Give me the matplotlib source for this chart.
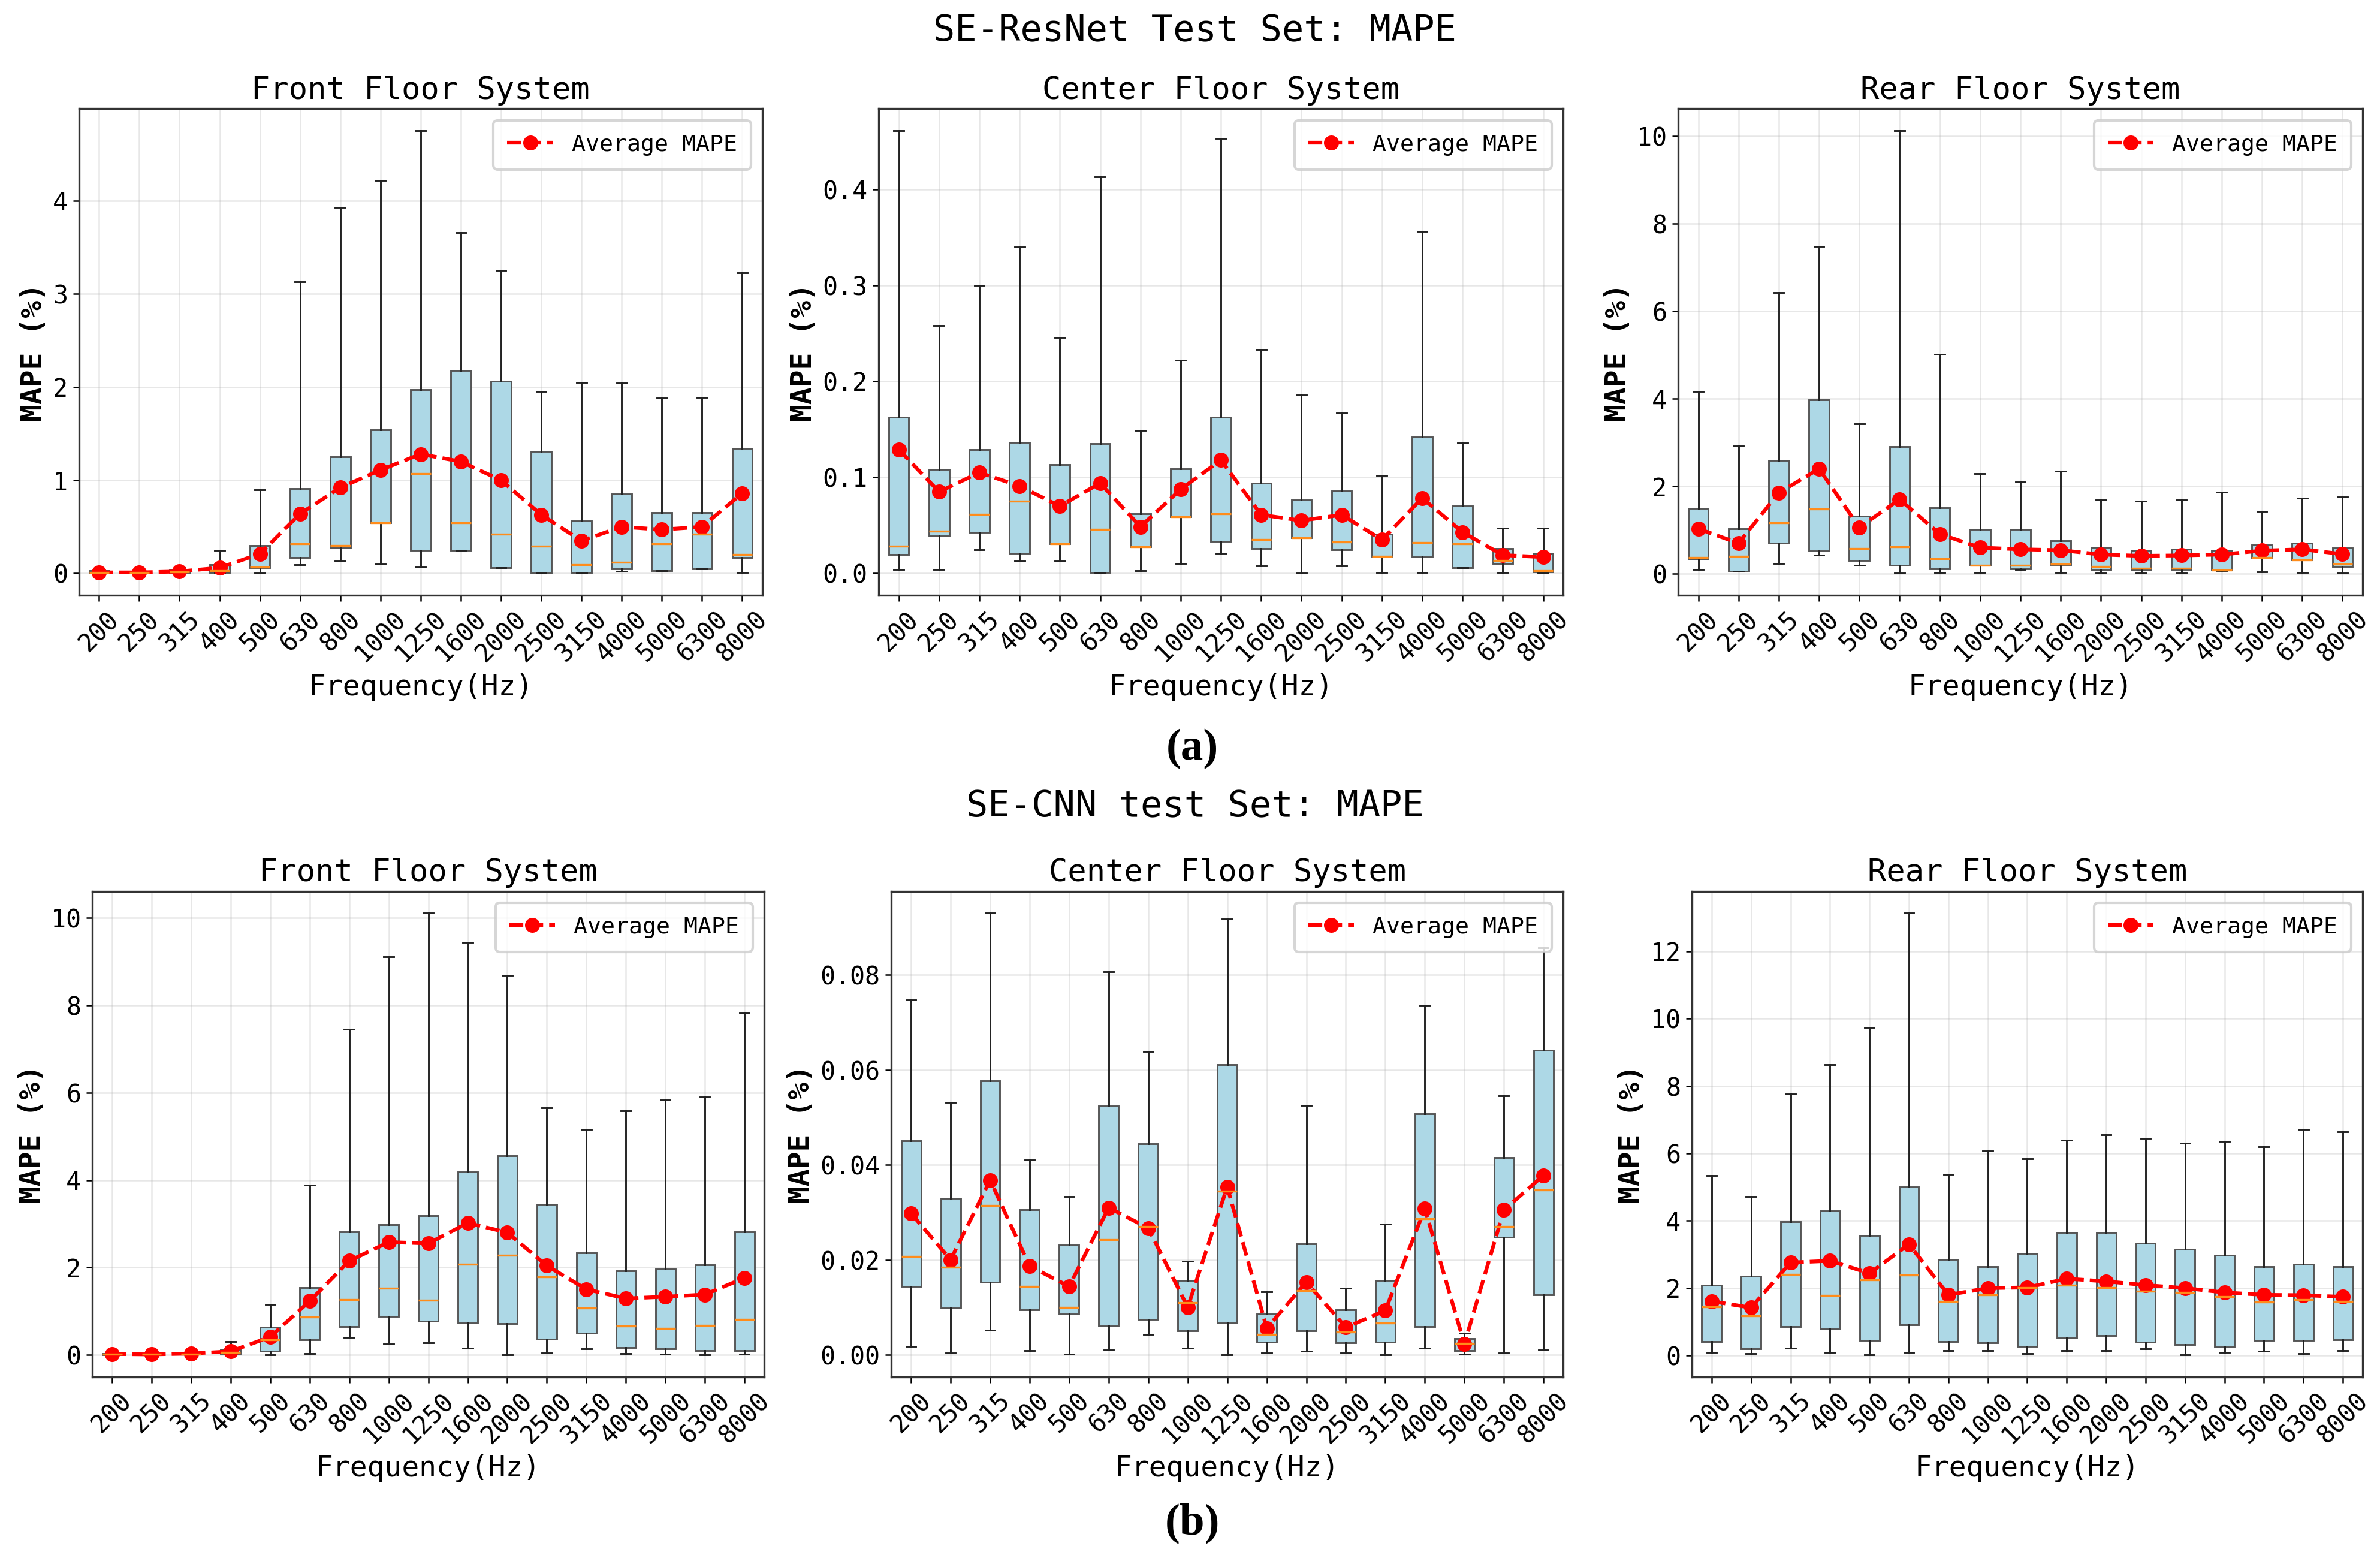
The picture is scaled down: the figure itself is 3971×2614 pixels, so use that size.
import numpy as np
import matplotlib
matplotlib.use("Agg")
import matplotlib.pyplot as plt

plt.rcParams['font.family'] = ['DejaVu Sans Mono', 'DejaVu Sans']

freqs = ["200", "250", "315", "400", "500", "630", "800", "1000", "1250",
         "1600", "2000", "2500", "3150", "4000", "5000", "6300", "8000"]

# ---- SE-ResNet, front floor
rf_lo = [0.0, 0.0, 0.0, 0.0, 0.0, 0.09, 0.13, 0.10, 0.07, 0.25, 0.06, 0.0, 0.0, 0.02, 0.03, 0.045, 0.01]
rf_q1 = [0.0, 0.0, 0.0, 0.01, 0.06, 0.17, 0.27, 0.545, 0.245, 0.25, 0.06, 0.0, 0.01, 0.045, 0.03, 0.045, 0.17]
rf_med = [0.01, 0.01, 0.015, 0.03, 0.07, 0.32, 0.30, 0.545, 1.07, 0.545, 0.42, 0.29, 0.09, 0.12, 0.32, 0.42, 0.205]
rf_q3 = [0.03, 0.02, 0.04, 0.09, 0.30, 0.91, 1.25, 1.54, 1.97, 2.18, 2.06, 1.31, 0.56, 0.85, 0.65, 0.65, 1.34]
rf_hi = [0.04, 0.03, 0.06, 0.25, 0.90, 3.13, 3.93, 4.22, 4.75, 3.66, 3.25, 1.95, 2.05, 2.04, 1.88, 1.89, 3.23]
rf_mean = [0.01, 0.01, 0.02, 0.06, 0.21, 0.64, 0.92, 1.11, 1.28, 1.20, 1.00, 0.63, 0.35, 0.50, 0.47, 0.50, 0.86]

# ---- SE-ResNet, center floor
rc_lo = [0.0043, 0.004, 0.0247, 0.0126, 0.0126, 0.001, 0.0026, 0.01, 0.021, 0.0078, 0.0, 0.008, 0.001, 0.001, 0.0056, 0.001, 0.0]
rc_q1 = [0.0195, 0.039, 0.0425, 0.021, 0.031, 0.001, 0.028, 0.059, 0.0334, 0.0256, 0.037, 0.0247, 0.018, 0.017, 0.0056, 0.01, 0.0017]
rc_med = [0.0286, 0.044, 0.0615, 0.0754, 0.031, 0.046, 0.028, 0.059, 0.0624, 0.035, 0.037, 0.0325, 0.018, 0.032, 0.031, 0.0134, 0.003]
rc_q3 = [0.1625, 0.108, 0.129, 0.1365, 0.1136, 0.135, 0.0624, 0.109, 0.1625, 0.094, 0.0767, 0.086, 0.041, 0.142, 0.070, 0.026, 0.021]
rc_hi = [0.461, 0.258, 0.300, 0.340, 0.246, 0.413, 0.149, 0.222, 0.453, 0.233, 0.186, 0.167, 0.102, 0.356, 0.136, 0.047, 0.047]
rc_mean = [0.129, 0.085, 0.105, 0.091, 0.070, 0.094, 0.0486, 0.0876, 0.118, 0.061, 0.055, 0.061, 0.035, 0.0785, 0.043, 0.019, 0.017]

# ---- SE-ResNet, rear floor
rr_lo = [0.10, 0.06, 0.23, 0.43, 0.20, 0.01, 0.03, 0.03, 0.10, 0.03, 0.02, 0.02, 0.01, 0.07, 0.04, 0.03, 0.01]
rr_q1 = [0.33, 0.06, 0.70, 0.52, 0.30, 0.20, 0.11, 0.20, 0.11, 0.21, 0.08, 0.08, 0.10, 0.08, 0.37, 0.32, 0.16]
rr_med = [0.37, 0.40, 1.16, 1.48, 0.58, 0.62, 0.35, 0.20, 0.19, 0.22, 0.16, 0.12, 0.12, 0.09, 0.37, 0.32, 0.22]
rr_q3 = [1.50, 1.03, 2.59, 3.97, 1.32, 2.90, 1.51, 1.01, 1.02, 0.76, 0.61, 0.53, 0.57, 0.54, 0.66, 0.70, 0.59]
rr_hi = [4.16, 2.92, 6.42, 7.48, 3.42, 10.12, 5.02, 2.29, 2.10, 2.35, 1.69, 1.66, 1.68, 1.86, 1.42, 1.73, 1.75]
rr_mean = [1.03, 0.70, 1.85, 2.40, 1.06, 1.70, 0.91, 0.60, 0.56, 0.54, 0.44, 0.41, 0.42, 0.44, 0.53, 0.56, 0.45]

# ---- SE-CNN, front floor
cf_lo = [0.0, 0.0, 0.0, 0.0, 0.0, 0.03, 0.40, 0.25, 0.27, 0.15, 0.0, 0.04, 0.14, 0.03, 0.01, 0.0, 0.02]
cf_q1 = [0.0, 0.0, 0.01, 0.03, 0.09, 0.34, 0.65, 0.88, 0.77, 0.73, 0.71, 0.36, 0.50, 0.17, 0.14, 0.10, 0.10]
cf_med = [0.01, 0.01, 0.02, 0.05, 0.34, 0.87, 1.27, 1.53, 1.25, 2.07, 2.28, 1.79, 1.07, 0.66, 0.61, 0.67, 0.81]
cf_q3 = [0.03, 0.02, 0.06, 0.12, 0.63, 1.54, 2.82, 2.98, 3.18, 4.19, 4.56, 3.45, 2.33, 1.92, 1.97, 2.06, 2.81]
cf_hi = [0.05, 0.04, 0.08, 0.30, 1.16, 3.88, 7.45, 9.12, 10.11, 9.44, 8.69, 5.66, 5.16, 5.59, 5.84, 5.90, 7.83]
cf_mean = [0.02, 0.01, 0.03, 0.08, 0.41, 1.23, 2.15, 2.58, 2.55, 3.02, 2.80, 2.04, 1.50, 1.29, 1.33, 1.38, 1.76]

# ---- SE-CNN, center floor
cc_lo = [0.0018, 0.0004, 0.0052, 0.0009, 0.0002, 0.001, 0.0043, 0.0014, 0.0, 0.0004, 0.0008, 0.0004, 0.0, 0.0014, 0.0001, 0.0004, 0.001]
cc_q1 = [0.0144, 0.0098, 0.0153, 0.0095, 0.0086, 0.0061, 0.0074, 0.0051, 0.0067, 0.0026, 0.0051, 0.0025, 0.0027, 0.0059, 0.0009, 0.0247, 0.0126]
cc_med = [0.0207, 0.0184, 0.0315, 0.0144, 0.010, 0.0242, 0.027, 0.011, 0.0345, 0.0043, 0.0135, 0.0048, 0.0067, 0.0287, 0.0024, 0.027, 0.0347]
cc_q3 = [0.0451, 0.0329, 0.0577, 0.0305, 0.0231, 0.0524, 0.0445, 0.0157, 0.0611, 0.0086, 0.0234, 0.0095, 0.0157, 0.0507, 0.0034, 0.0415, 0.0641]
cc_hi = [0.0747, 0.0532, 0.093, 0.041, 0.0334, 0.0807, 0.0639, 0.0197, 0.0918, 0.0133, 0.0525, 0.014, 0.0275, 0.0736, 0.0046, 0.0545, 0.0857]
cc_mean = [0.0298, 0.020, 0.0368, 0.0187, 0.0144, 0.031, 0.0267, 0.010, 0.0354, 0.0056, 0.0153, 0.0058, 0.0093, 0.0308, 0.0023, 0.0305, 0.0378]

# ---- SE-CNN, rear floor
cr_lo = [0.10, 0.05, 0.22, 0.10, 0.02, 0.10, 0.14, 0.14, 0.05, 0.14, 0.15, 0.20, 0.02, 0.10, 0.12, 0.05, 0.14]
cr_q1 = [0.42, 0.20, 0.85, 0.78, 0.44, 0.92, 0.42, 0.37, 0.27, 0.52, 0.59, 0.39, 0.32, 0.25, 0.44, 0.44, 0.47]
cr_med = [1.45, 1.18, 2.41, 1.79, 2.24, 2.38, 1.60, 1.80, 2.02, 2.08, 2.02, 1.91, 1.87, 1.74, 1.59, 1.65, 1.60]
cr_q3 = [2.09, 2.35, 3.98, 4.30, 3.56, 5.01, 2.86, 2.64, 3.03, 3.65, 3.65, 3.33, 3.15, 2.97, 2.64, 2.71, 2.64]
cr_hi = [5.34, 4.72, 7.77, 8.63, 9.74, 13.13, 5.37, 6.08, 5.84, 6.39, 6.55, 6.44, 6.31, 6.35, 6.19, 6.72, 6.64]
cr_mean = [1.61, 1.42, 2.76, 2.81, 2.44, 3.30, 1.80, 2.00, 2.02, 2.28, 2.20, 2.09, 2.00, 1.87, 1.80, 1.79, 1.74]


def draw_panel(ax, title, lo, q1, med, q3, hi, mean):
    pos = np.arange(1, len(freqs) + 1)
    stats = []
    for i in range(len(freqs)):
        stats.append({'whislo': lo[i], 'q1': q1[i], 'med': med[i],
                      'q3': q3[i], 'whishi': hi[i], 'fliers': []})
    ax.bxp(stats, positions=pos, widths=0.5, patch_artist=True, showfliers=False,
           boxprops=dict(facecolor='#add8e6', edgecolor='#555555', linewidth=0.7),
           medianprops=dict(color='#ff8c1a', linewidth=0.8),
           whiskerprops=dict(color='#222222', linewidth=0.7),
           capprops=dict(color='#222222', linewidth=0.7))
    ax.plot(pos, mean, 'r--o', linewidth=1.5, markersize=5, label='Average MAPE')
    ax.set_xticks(pos)
    ax.set_xticklabels(freqs, rotation=45)
    ax.tick_params(labelsize=10, length=2.5, width=0.6, pad=2)
    ax.set_title(title, fontsize=12.5, pad=4)
    ax.set_xlabel('Frequency(Hz)', fontsize=11.5, labelpad=2.5)
    ax.set_ylabel('MAPE (%)', fontsize=11.5, labelpad=2, weight='bold')
    ax.grid(True, alpha=0.3, linewidth=0.6)
    ax.legend(loc='upper right', fontsize=9.2, borderpad=0.6, handlelength=2.0)
    for sp in ax.spines.values():
        sp.set_linewidth(0.8)
        sp.set_color('#333333')


fig = plt.figure(figsize=(3971 / 300, 2614 / 300), dpi=300)

top_axes = [fig.add_axes([0.0332, 0.620, 0.2871, 0.3106]),
            fig.add_axes([0.3692, 0.620, 0.2876, 0.3106]),
            fig.add_axes([0.7051, 0.620, 0.2876, 0.3106])]
bot_axes = [fig.add_axes([0.0388, 0.1213, 0.2823, 0.310]),
            fig.add_axes([0.3745, 0.1213, 0.2823, 0.310]),
            fig.add_axes([0.7109, 0.1213, 0.2818, 0.310])]

draw_panel(top_axes[0], 'Front Floor System', rf_lo, rf_q1, rf_med, rf_q3, rf_hi, rf_mean)
draw_panel(top_axes[1], 'Center Floor System', rc_lo, rc_q1, rc_med, rc_q3, rc_hi, rc_mean)
draw_panel(top_axes[2], 'Rear Floor System', rr_lo, rr_q1, rr_med, rr_q3, rr_hi, rr_mean)
draw_panel(bot_axes[0], 'Front Floor System', cf_lo, cf_q1, cf_med, cf_q3, cf_hi, cf_mean)
draw_panel(bot_axes[1], 'Center Floor System', cc_lo, cc_q1, cc_med, cc_q3, cc_hi, cc_mean)
draw_panel(bot_axes[2], 'Rear Floor System', cr_lo, cr_q1, cr_med, cr_q3, cr_hi, cr_mean)

fig.text(0.502, 0.980, 'SE-ResNet Test Set: MAPE', ha='center', va='center', fontsize=14.5)
fig.text(0.502, 0.485, 'SE-CNN test Set: MAPE', ha='center', va='center', fontsize=14.5)
fig.text(0.501, 0.522, '(a)', ha='center', va='center', fontsize=18,
         family='Liberation Serif', weight='bold')
fig.text(0.501, 0.028, '(b)', ha='center', va='center', fontsize=18,
         family='Liberation Serif', weight='bold')

fig.savefig('out.png', dpi=300, facecolor='white')
